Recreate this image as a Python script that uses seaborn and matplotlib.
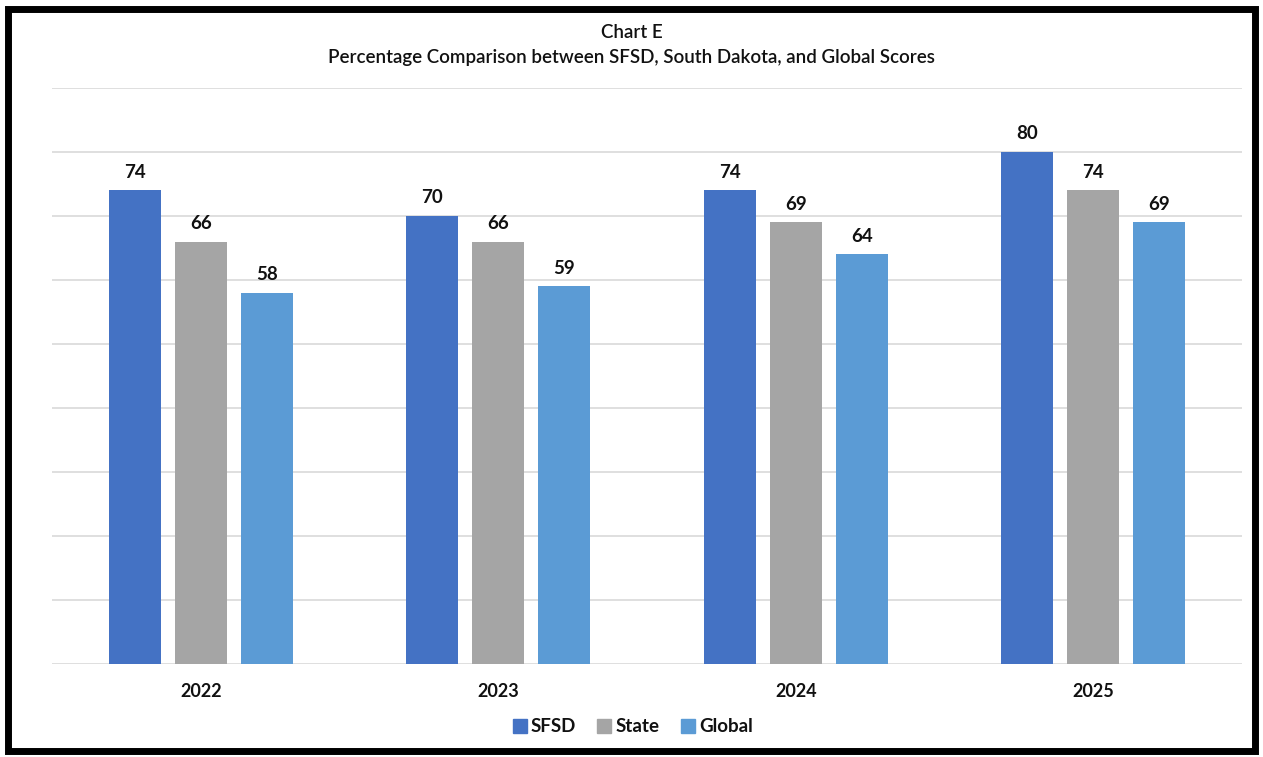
import matplotlib
matplotlib.use("Agg")
import matplotlib.pyplot as plt
import seaborn as sns
import pandas as pd
from matplotlib.patches import Rectangle
from matplotlib.lines import Line2D

years = ["2022", "2023", "2024", "2025"]
series = ["SFSD", "State", "Global"]
sfsd = [74, 70, 74, 80]
state = [66, 66, 69, 74]
global_ = [58, 59, 64, 69]
colors = ["#4472C4", "#A5A5A5", "#5B9BD5"]

rows = []
for name, vals in zip(series, [sfsd, state, global_]):
    for y, v in zip(years, vals):
        rows.append({"Year": y, "Series": name, "Value": v})
df = pd.DataFrame(rows)

sns.set_theme(style="white")
plt.rcParams["font.family"] = ["Lato", "DejaVu Sans"]

fig = plt.figure(figsize=(12.63, 7.57), dpi=100)
ax = fig.add_axes([52/1263, 1-664/757, (1242-52)/1263, (664-88)/757])

sns.barplot(data=df, x="Year", y="Value", hue="Series", order=years,
            hue_order=series, palette=colors, width=0.666, gap=0.21,
            ax=ax, legend=False, saturation=1, linewidth=0)

ax.set_ylim(0, 90)
ax.set_yticks(range(0, 91, 10))
ax.set_xlim(-0.5, 3.5)
ax.yaxis.grid(True, color="#D9D9D9", linewidth=1.2)
ax.set_axisbelow(True)
for s in ax.spines.values():
    s.set_visible(False)
ax.tick_params(axis="y", left=False, labelleft=False)
ax.tick_params(axis="x", bottom=False, pad=8)
for lbl in ax.get_xticklabels():
    lbl.set_fontsize(13)
    lbl.set_fontweight("bold")
    lbl.set_color("#111111")
ax.set_xlabel("")
ax.set_ylabel("")

for cont in ax.containers:
    ax.bar_label(cont, fmt="%d", padding=7, fontsize=13.5, fontweight="bold", color="#111111")

fig.text(0.5, 1-33/757, "Chart E", ha="center", va="center", fontsize=13.5,
         fontweight="semibold", color="#111111")
fig.text(0.5, 1-58/757, "Percentage Comparison between SFSD, South Dakota, and Global Scores",
         ha="center", va="center", fontsize=13.5, fontweight="semibold", color="#111111")

handles = [Line2D([], [], marker="s", linestyle="", markersize=9.5, color=c) for c in colors]
fig.legend(handles, series, loc="center", bbox_to_anchor=(0.5, 1-727/757), ncol=3,
           frameon=False, prop={"size": 13.5, "weight": "bold"}, handletextpad=0.1,
           columnspacing=1.0, handlelength=1.0, labelcolor="#111111")

fig.patches.append(Rectangle((8/1263, 6/757), (1255-8)/1263, (748-6)/757,
                             transform=fig.transFigure, fill=False,
                             edgecolor="black", linewidth=5))

fig.savefig("out.png", dpi=100)
